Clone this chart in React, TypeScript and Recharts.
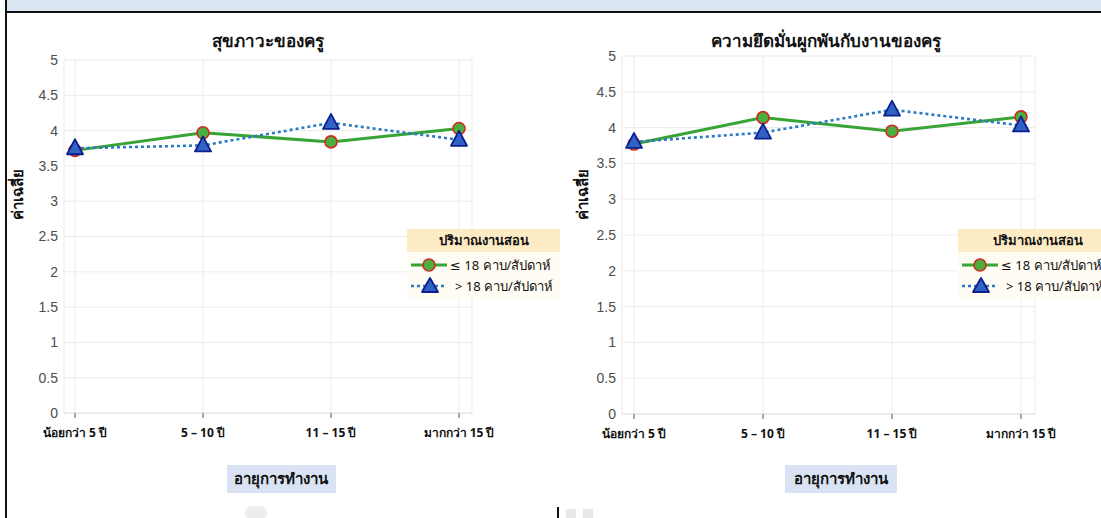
import * as React from 'react'
import { LineChart, Line, XAxis, YAxis, CartesianGrid } from 'recharts'

const categories = ['น้อยกว่า 5 ปี', '5 – 10 ปี', '11 – 15 ปี', 'มากกว่า 15 ปี']
const wellbeingLow = [3.72, 3.97, 3.84, 4.03]
const wellbeingHigh = [3.75, 3.79, 4.11, 3.87]
const engagementLow = [3.77, 4.14, 3.95, 4.15]
const engagementHigh = [3.8, 3.93, 4.25, 4.03]
const yTicks = [0, 0.5, 1, 1.5, 2, 2.5, 3, 3.5, 4, 4.5, 5]
const seriesNames = ['≤ 18 คาบ/สัปดาห์', '> 18 คาบ/สัปดาห์']
const chartTitles = ['สุขภาวะของครู', 'ความยึดมั่นผูกพันกับงานของครู']
const legendTitle = 'ปริมาณงานสอน'
const xTitle = 'อายุการทำงาน'
const yTitle = 'ค่าเฉลี่ย'

const FONT = "'Noto Sans', 'DejaVu Sans', sans-serif"
const GREEN = '#38a436'
const BLUE = '#2a7ac4'

const toRows = (low: number[], high: number[]) =>
  categories.map((c, i) => ({ name: c, low: low[i], high: high[i] }))

const Triangle = (props: any) => {
  const { cx, cy } = props
  if (cx == null || cy == null) return null
  return (
    <polygon
      points={`${cx},${cy - 9} ${cx - 8},${cy + 6} ${cx + 8},${cy + 6}`}
      fill="#2f62c2"
      stroke="#0d1f8f"
      strokeWidth={1.8}
      strokeLinejoin="round"
    />
  )
}

const XTick = (props: any) => {
  const { x, y, payload } = props
  return (
    <text x={x} y={y} dy={9} textAnchor="middle" fontSize={12} fontWeight={700} fill="#111" fontFamily={FONT}>
      {payload.value}
    </text>
  )
}

interface PanelProps {
  left: number
  width: number
  top: number
  bottom: number
  right: number
  yWidth: number
  pad: { left: number; right: number }
  low: number[]
  high: number[]
}

function Panel({ left, width, top, bottom, right, yWidth, pad, low, high }: PanelProps) {
  return (
    <div style={{ position: 'absolute', left, top: 0 }}>
      <LineChart width={width} height={518} data={toRows(low, high)} margin={{ top, right, bottom, left: 0 }}>
        <CartesianGrid stroke="#ebebeb" />
        <XAxis
          dataKey="name"
          height={30}
          padding={pad}
          axisLine={{ stroke: '#e3e3e3' }}
          tickLine={{ stroke: '#555' }}
          tickSize={5}
          tickMargin={10}
          tick={<XTick />}
          interval={0}
        />
        <YAxis
          domain={[0, 5]}
          ticks={yTicks}
          width={yWidth}
          axisLine={false}
          tickLine={false}
          tickSize={4}
          tickMargin={2}
          tick={{ fontSize: 14, fill: '#4d4d4d', fontFamily: "'Liberation Sans', Arial, sans-serif" }}
        />
        <Line
          dataKey="low"
          stroke={GREEN}
          strokeWidth={3}
          dot={{ r: 6, fill: '#4cae3e', stroke: '#d22a22', strokeWidth: 1.6 }}
          isAnimationActive={false}
        />
        <Line
          dataKey="high"
          stroke={BLUE}
          strokeWidth={2.6}
          strokeDasharray="3 3"
          dot={<Triangle />}
          isAnimationActive={false}
        />
      </LineChart>
    </div>
  )
}

function LegendBox({ left, width }: { left: number; width: number }) {
  return (
    <div style={{ position: 'absolute', left, top: 229, width, fontFamily: FONT }}>
      <div
        style={{
          background: '#fdebc6',
          height: 23,
          lineHeight: '23px',
          textAlign: 'center',
          fontSize: 13,
          fontWeight: 700,
          color: '#111',
        }}
      >
        {legendTitle}
      </div>
      <div style={{ background: '#fffcf4', height: 46, position: 'relative' }}>
        {seriesNames.map((s, i) => (
          <div
            key={s}
            style={{ position: 'absolute', left: 3, top: 3 + i * 21, height: 20, display: 'flex', alignItems: 'center' }}
          >
            <svg width={38} height={20}>
              {i === 0 ? (
                <>
                  <line x1={1} y1={10} x2={37} y2={10} stroke={GREEN} strokeWidth={3} />
                  <circle cx={19} cy={10} r={6} fill="#4cae3e" stroke="#d22a22" strokeWidth={1.6} />
                </>
              ) : (
                <>
                  <line x1={1} y1={10} x2={37} y2={10} stroke={BLUE} strokeWidth={2.6} strokeDasharray="3 3" />
                  <polygon points="20,2 12,16 28,16" fill="#2f62c2" stroke="#0d1f8f" strokeWidth={1.8} strokeLinejoin="round" />
                </>
              )}
            </svg>
            <span style={{ fontSize: 13, color: '#111', marginLeft: i === 0 ? 2 : 7, whiteSpace: 'nowrap' }}>{s}</span>
          </div>
        ))}
      </div>
    </div>
  )
}

const textAbs = (x: number, y: number, size: number): React.CSSProperties => ({
  position: 'absolute',
  left: x,
  top: y,
  transform: 'translate(-50%, -50%)',
  fontSize: size,
  fontWeight: 700,
  color: '#111',
  whiteSpace: 'nowrap',
  fontFamily: FONT,
})

export default function App() {
  return (
    <div style={{ position: 'relative', width: 1101, height: 518, background: '#fff', overflow: 'hidden' }}>
      <style>{'body{margin:0}'}</style>
      <div style={{ position: 'absolute', left: 6, top: 0, width: 1095, height: 11, background: '#dce6f2' }} />
      <div style={{ position: 'absolute', left: 6, top: 11, width: 1095, height: 2, background: '#111' }} />
      <div style={{ position: 'absolute', left: 5, top: 0, width: 2, height: 518, background: '#111' }} />

      <Panel left={0} width={560} top={60} bottom={75} right={88} yWidth={64} pad={{ left: 11, right: 13 }} low={wellbeingLow} high={wellbeingHigh} />
      <Panel left={560} width={541} top={56} bottom={74} right={66} yWidth={62} pad={{ left: 12, right: 14 }} low={engagementLow} high={engagementHigh} />

      <div style={textAbs(268, 40, 17)}>{chartTitles[0]}</div>
      <div style={textAbs(826, 40, 17)}>{chartTitles[1]}</div>

      <div style={{ ...textAbs(18, 194, 15), transform: 'translate(-50%, -50%) rotate(-90deg)' }}>{yTitle}</div>
      <div style={{ ...textAbs(583, 194, 15), transform: 'translate(-50%, -50%) rotate(-90deg)' }}>{yTitle}</div>

      <div style={{ position: 'absolute', left: 227, top: 465, width: 109, height: 28, background: '#dae3f3' }} />
      <div style={textAbs(281, 479, 15)}>{xTitle}</div>
      <div style={{ position: 'absolute', left: 785, top: 465, width: 112, height: 28, background: '#dae3f3' }} />
      <div style={textAbs(841, 479, 15)}>{xTitle}</div>

      <LegendBox left={407} width={153} />
      <LegendBox left={958} width={160} />

      <div style={{ position: 'absolute', left: 245, top: 506, width: 22, height: 14, borderRadius: 9, background: '#ededed' }} />
      <div style={{ position: 'absolute', left: 557, top: 507, width: 2, height: 11, background: '#111' }} />
      <div style={{ position: 'absolute', left: 566, top: 509, width: 10, height: 9, background: '#e8e8e8' }} />
      <div style={{ position: 'absolute', left: 583, top: 509, width: 10, height: 9, background: '#e8e8e8' }} />
    </div>
  )
}
